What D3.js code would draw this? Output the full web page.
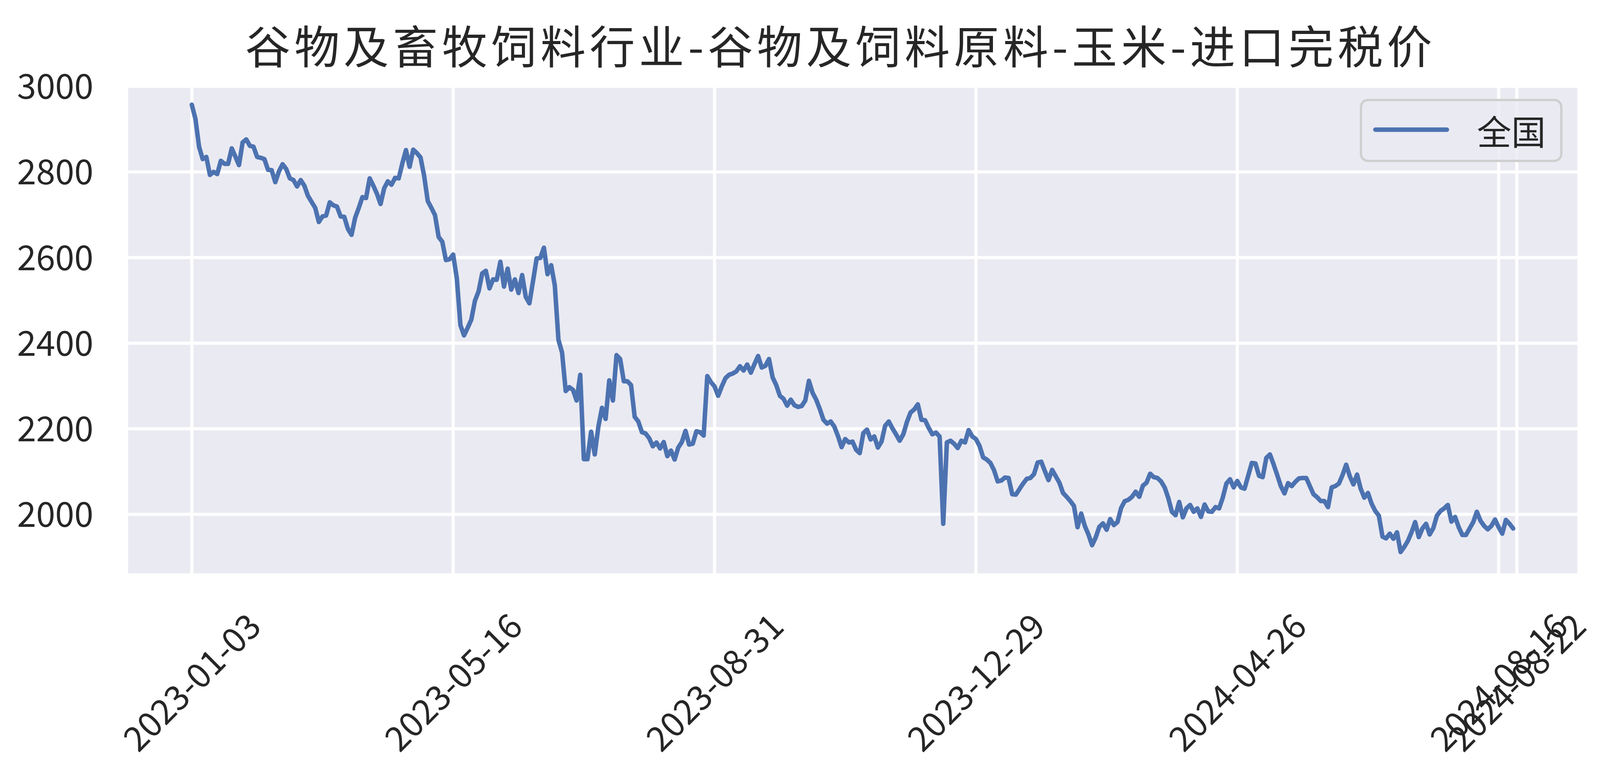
<!DOCTYPE html>
<html>
<head>
<meta charset="utf-8">
<script src="https://cdn.jsdelivr.net/npm/d3@7"></script>
<style>
  body { margin: 0; background: #fff; }
  text { font-family: "Noto Sans CJK SC", sans-serif; fill: #262626; }
</style>
</head>
<body>
<div id="chart"></div>
<script>
// chart text
var chartTitle = "谷物及畜牧饲料行业-谷物及饲料原料-玉米-进口完税价";
var seriesName = "全国";

// x axis: position of the labelled dates in the series (trading-day index)
var tickPos = [0, 72, 144, 216, 288, 360, 365];
var tickDates = ["2023-01-03", "2023-05-16", "2023-08-31", "2023-12-29", "2024-04-26", "2024-08-16", "2024-08-22"];
var yTicks = [2000, 2200, 2400, 2600, 2800, 3000];

// 全国 进口玉米完税价, one value per trading day
var corn = [
  2957,2924,2859,2830,2835,2793,2800,2795,2826,2819,2819,2855,2836,2816,2869,2876,2861,2859,2835,2833,
  2830,2805,2804,2776,2801,2818,2807,2785,2781,2766,2781,2768,2744,2730,2716,2683,2696,2698,2729,2722,
  2719,2696,2695,2667,2653,2693,2716,2741,2739,2785,2768,2749,2725,2762,2778,2770,2786,2785,2820,2851,
  2812,2852,2844,2834,2791,2732,2716,2699,2648,2637,2594,2596,2607,2552,2442,2418,2436,2455,2499,2521,
  2563,2569,2528,2549,2548,2590,2532,2574,2525,2549,2517,2559,2508,2493,2545,2598,2599,2623,2561,2582,
  2535,2408,2378,2288,2297,2291,2266,2326,2129,2129,2193,2140,2205,2249,2223,2313,2266,2372,2363,2311,
  2311,2302,2228,2217,2192,2189,2178,2159,2168,2154,2169,2136,2149,2128,2156,2169,2195,2163,2165,2194,
  2192,2184,2323,2309,2299,2277,2299,2318,2326,2329,2334,2346,2336,2350,2331,2351,2370,2343,2347,2363,
  2320,2302,2277,2270,2254,2268,2255,2251,2253,2266,2312,2284,2268,2246,2221,2212,2217,2205,2183,2157,
  2176,2168,2170,2151,2143,2190,2198,2175,2182,2156,2170,2207,2217,2201,2187,2172,2187,2216,2238,2245,
  2257,2221,2220,2202,2187,2191,2182,1978,2168,2172,2165,2155,2172,2168,2197,2182,2176,2160,2133,2128,
  2120,2103,2077,2079,2086,2085,2047,2046,2059,2072,2083,2085,2094,2121,2123,2101,2080,2104,2089,2074,
  2050,2041,2031,2020,1970,2002,1973,1953,1928,1946,1971,1979,1964,1989,1975,1982,2015,2031,2034,2041,
  2053,2041,2067,2074,2095,2087,2085,2077,2063,2038,2006,1998,2029,1993,2014,2022,2006,2014,1994,2023,
  2007,2006,2017,2014,2039,2072,2082,2063,2078,2063,2060,2090,2120,2119,2090,2087,2132,2140,2117,2092,
  2066,2049,2073,2066,2076,2084,2085,2085,2066,2047,2040,2031,2031,2017,2063,2066,2072,2092,2116,2089,
  2070,2093,2060,2039,2050,2025,2008,1997,1948,1944,1955,1943,1958,1912,1924,1938,1958,1982,1947,1967,
  1978,1953,1968,1997,2008,2014,2022,1983,1994,1970,1952,1952,1967,1982,2006,1985,1973,1965,1973,1988,
  1970,1955,1987,1978,1967
];

var W = 4131, H = 1987;
var box = { left: 328, right: 4038, top: 222, bottom: 1468 };

var svg = d3.select("#chart").append("svg")
    .attr("width", W)
    .attr("height", H)
    .attr("viewBox", "0 0 " + W + " " + H);

var x = d3.scaleLinear().domain([0, 365]).range([491, 3883]);
var y = d3.scaleLinear().domain([1862.3, 3000]).range([box.bottom, 221]);

svg.append("clipPath").attr("id", "plotclip")
  .append("rect")
    .attr("x", box.left).attr("y", box.top)
    .attr("width", box.right - box.left).attr("height", box.bottom - box.top);

// grey panel
svg.append("rect")
    .attr("x", box.left).attr("y", box.top)
    .attr("width", box.right - box.left).attr("height", box.bottom - box.top)
    .attr("fill", "#eaeaf2");

// white grid
var grid = svg.append("g").attr("clip-path", "url(#plotclip)")
    .attr("stroke", "#fff").attr("stroke-width", 8);
grid.selectAll(".hg").data(yTicks).enter().append("line")
    .attr("x1", box.left).attr("x2", box.right)
    .attr("y1", function (d) { return y(d); })
    .attr("y2", function (d) { return y(d); });
grid.selectAll(".vg").data(tickPos).enter().append("line")
    .attr("y1", box.top).attr("y2", box.bottom)
    .attr("x1", function (d) { return x(d); })
    .attr("x2", function (d) { return x(d); });

// y axis labels
var yAxis = svg.append("g")
    .attr("transform", "translate(" + box.left + ",0)")
    .call(d3.axisLeft(y).tickValues(yTicks).tickSize(0).tickPadding(89).tickFormat(d3.format("d")));
yAxis.select(".domain").remove();
yAxis.selectAll("text")
    .attr("dy", "0.36em")
    .style("font-size", "88px")
    .style("font-family", "'Noto Sans CJK SC', sans-serif")
    .attr("fill", "#262626");

// x axis labels, rotated 45 degrees and centred under the tick
var xAxis = svg.append("g")
    .attr("transform", "translate(0," + box.bottom + ")")
    .call(d3.axisBottom(x).tickValues(tickPos).tickSize(0)
      .tickFormat(function (d, i) { return tickDates[i]; }));
xAxis.select(".domain").remove();
xAxis.selectAll("text")
    .attr("y", 0)
    .attr("dy", "0.36em")
    .attr("transform", "translate(0,279) rotate(-45)")
    .style("text-anchor", "middle")
    .style("font-size", "88px")
    .style("font-family", "'Noto Sans CJK SC', sans-serif")
    .attr("fill", "#262626");

// the series
var line = d3.line()
    .x(function (d, i) { return x(i); })
    .y(function (d) { return y(d); });

svg.append("path")
    .datum(corn)
    .attr("clip-path", "url(#plotclip)")
    .attr("d", line)
    .attr("fill", "none")
    .attr("stroke", "#4c72b0")
    .attr("stroke-width", 11.5)
    .attr("stroke-linejoin", "round")
    .attr("stroke-linecap", "round");

// legend
var legend = svg.append("g");
legend.append("rect")
    .attr("x", 3484).attr("y", 256)
    .attr("width", 513).attr("height", 156)
    .attr("rx", 18).attr("ry", 18)
    .attr("fill", "rgba(234,234,242,0.8)")
    .attr("stroke", "#cfcfcf")
    .attr("stroke-width", 6);
legend.append("line")
    .attr("x1", 3521).attr("x2", 3704)
    .attr("y1", 332).attr("y2", 332)
    .attr("stroke", "#4c72b0")
    .attr("stroke-width", 11.5)
    .attr("stroke-linecap", "round");
legend.append("text")
    .attr("x", 3781).attr("y", 332)
    .attr("dominant-baseline", "central")
    .style("font-size", "88px")
    .text(seriesName);

// title
svg.append("text")
    .attr("x", 2152)
    .attr("y", 163)
    .attr("text-anchor", "middle")
    .style("font-size", "116px")
    .style("letter-spacing", "10px")
    .attr("fill", "#111")
    .text(chartTitle);
</script>
</body>
</html>
